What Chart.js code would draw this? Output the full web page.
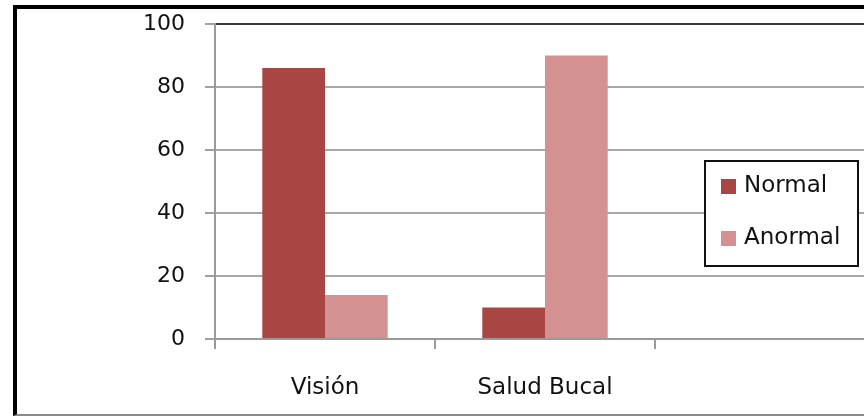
<!DOCTYPE html>
<html>
<head>
<meta charset="utf-8">
<script src="https://cdn.jsdelivr.net/npm/chart.js@4.4.0/dist/chart.umd.min.js"></script>
<style>
  html, body { margin: 0; padding: 0; overflow: hidden; background: #fff; width: 864px; height: 418px; }
  #wrap { position: absolute; left: 0; top: 0; width: 880px; height: 418px; }
  #frame { position: absolute; left: 13px; top: 5px; width: 900px; height: 405px;
           border-left: 4px solid #000; border-top: 4px solid #000; border-bottom: 2px solid #8a8a8a;
           pointer-events: none; box-sizing: content-box; }
</style>
</head>
<body>
<div id="wrap"><canvas id="c" width="880" height="418"></canvas></div>
<div id="frame"></div>
<script>
const categories = ['Visión', 'Salud Bucal', ''];
const normalValues = [86, 10, null];
const anormalValues = [14, 90, null];
const yTicks = [0, 20, 40, 60, 80, 100];

const FONT = 'DejaVu Sans';
const TEXT = '#111111';

const legendBox = {
  id: 'legendBox',
  afterDraw(chart) {
    const ctx = chart.ctx;
    const x0 = 705, y0 = 161, w = 153, h = 105;
    ctx.save();
    ctx.fillStyle = '#fff';
    ctx.fillRect(x0, y0, w, h);
    ctx.strokeStyle = '#111';
    ctx.lineWidth = 2;
    ctx.strokeRect(x0, y0, w, h);
    ctx.font = '23px "' + FONT + '"';
    ctx.textBaseline = 'middle';
    ctx.textAlign = 'left';
    const rows = [186.5, 238.5];
    chart.data.datasets.forEach((ds, i) => {
      const cy = rows[i];
      ctx.fillStyle = ds.backgroundColor;
      ctx.fillRect(721, cy - 7.5, 15, 15);
      ctx.fillStyle = TEXT;
      ctx.fillText(ds.label, 744, cy);
    });
    ctx.restore();
  }
};

new Chart(document.getElementById('c'), {
  type: 'bar',
  data: {
    labels: categories,
    datasets: [
      { label: 'Normal', data: normalValues, backgroundColor: '#A84644' },
      { label: 'Anormal', data: anormalValues, backgroundColor: '#D39291' }
    ]
  },
  options: {
    responsive: false,
    animation: false,
    devicePixelRatio: 1,
    layout: { padding: { left: 0, top: 24, right: 5, bottom: 0 } },
    plugins: { legend: { display: false }, tooltip: { enabled: false } },
    datasets: { bar: { categoryPercentage: 0.57, barPercentage: 1.0 } },
    scales: {
      x: {
        offset: true,
        grid: { offset: true, drawOnChartArea: false, drawTicks: true, tickLength: 10, color: '#9a9a9a', lineWidth: 2 },
        border: { color: '#9a9a9a', width: 2 },
        ticks: { font: { family: FONT, size: 23 }, color: TEXT, padding: 25, maxRotation: 0 },
        afterFit: (s) => { s.height = 79; s.paddingLeft = 0; s.paddingRight = 0; }
      },
      y: {
        min: 0, max: 100,
        afterBuildTicks: (s) => { s.ticks = yTicks.map(v => ({ value: v })); },
        grid: {
          color: (c) => c.tick && c.tick.value === 100 ? '#3a3a3a' : '#a8a8a8',
          tickColor: '#a0a0a0',
          lineWidth: 2, tickLength: 10
        },
        border: { color: '#9a9a9a', width: 2 },
        ticks: { font: { family: FONT, size: 22 }, color: TEXT, padding: 20 },
        afterFit: (s) => { s.width = 215; s.paddingTop = 0; s.paddingBottom = 0; }
      }
    }
  },
  plugins: [legendBox]
});
</script>
</body>
</html>
